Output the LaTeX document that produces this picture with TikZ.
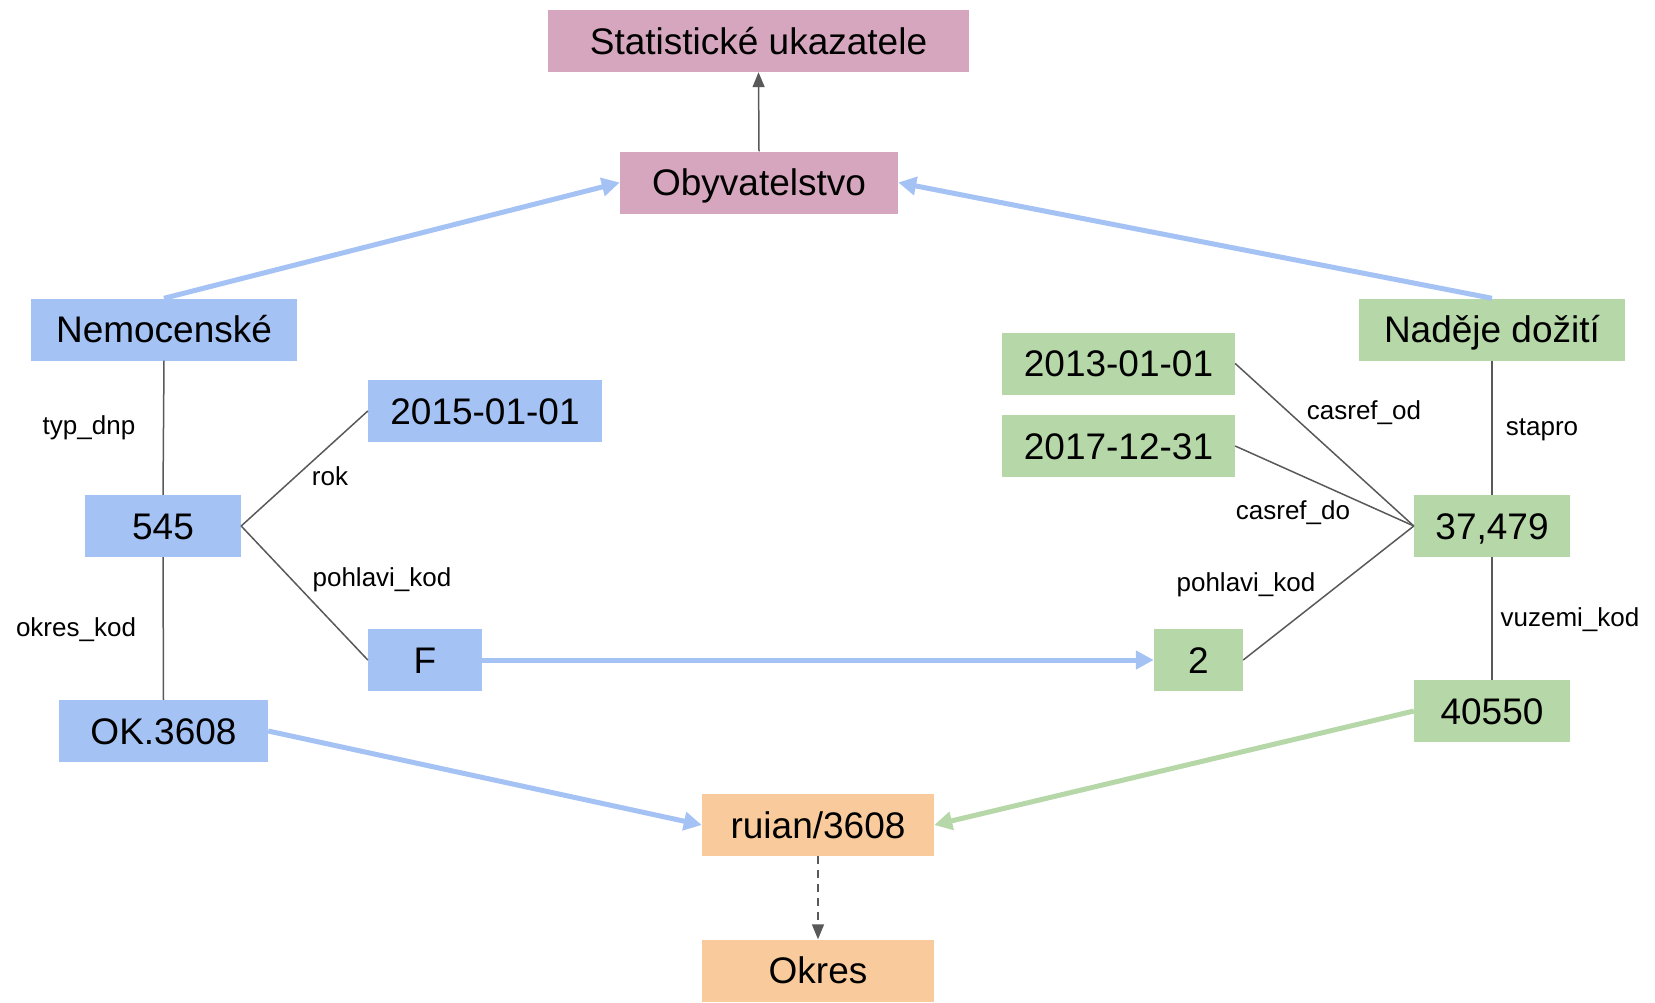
\documentclass[tikz,border=0pt]{standalone}
\usepackage{fontspec}
\setmainfont{Liberation Sans}
\usetikzlibrary{arrows.meta}
\definecolor{cblue}{HTML}{A4C2F4}
\definecolor{cpink}{HTML}{D5A6BD}
\definecolor{cgreen}{HTML}{B6D7A8}
\definecolor{corange}{HTML}{F9CB9C}
\definecolor{cgray}{HTML}{595959}
\begin{document}
\begin{tikzpicture}[x=1pt,y=1pt,
  box/.style={inner sep=0pt,minimum height=62pt,text height=26.5pt,text depth=0pt,font=\fontsize{37}{40}\selectfont,text=black},
  bl/.style={box,fill=cblue},
  gr/.style={box,fill=cgreen},
  pk/.style={box,fill=cpink},
  og/.style={box,fill=corange},
  lbl/.style={inner sep=0pt,font=\fontsize{26}{30}\selectfont},
  thin/.style={draw=cgray,line width=1.5pt},
  thinarr/.style={thin,-{Triangle[length=15pt,width=12pt]}},
  bigarr/.style={line width=5pt,-{Triangle[length=18pt,width=18pt]}}
]
\useasboundingbox (0,0) rectangle (1655,-1002);
\node[pk,minimum width=421pt] (stat) at (758.5,-41) {Statistické ukazatele};
\node[pk,minimum width=278pt] (obyv) at (759,-182.5) {Obyvatelstvo};
\node[bl,minimum width=266pt] (nem) at (164,-329.5) {Nemocenské};
\node[gr,minimum width=266pt] (nad) at (1492,-329.5) {Naděje dožití};
\node[gr,minimum width=233pt] (d13) at (1118.5,-363.5) {2013-01-01};
\node[gr,minimum width=233pt] (d17) at (1118.5,-446) {2017-12-31};
\node[bl,minimum width=234pt] (d15) at (485,-411) {2015-01-01};
\node[bl,minimum width=156pt] (n545) at (163,-526) {545};
\node[gr,minimum width=156pt] (n37) at (1492,-526) {37,479};
\node[bl,minimum width=114pt] (nF) at (425,-660) {F};
\node[gr,minimum width=89pt] (n2) at (1198.5,-660) {2};
\node[bl,minimum width=209pt] (ok) at (163.5,-731) {OK.3608};
\node[gr,minimum width=156pt] (n405) at (1492,-711) {40550};
\node[og,minimum width=232pt] (ruian) at (818,-825) {ruian/3608};
\node[og,minimum width=232pt] (okres) at (818,-970.5) {Okres};

\draw[thinarr] (obyv.north) -- (stat.south);
\draw[bigarr,draw=cblue,fill=cblue] (nem.north) -- (obyv.west);
\draw[bigarr,draw=cblue,fill=cblue] (nad.north) -- (obyv.east);
\draw[thin] (nem.south) -- (n545.north);
\draw[thin] (n545.south) -- (ok.north);
\draw[thin] (n545.east) -- (d15.west);
\draw[thin] (n545.east) -- (nF.west);
\draw[bigarr,draw=cblue,fill=cblue] (nF.east) -- (n2.west);
\draw[bigarr,draw=cblue,fill=cblue] (ok.east) -- (ruian.west);
\draw[bigarr,draw=cgreen,fill=cgreen] (n405.west) -- (ruian.east);
\draw[thinarr,dash pattern=on 8pt off 6pt] (ruian.south) -- (okres.north);
\draw[thin] (n37.west) -- (d13.east);
\draw[thin] (n37.west) -- (d17.east);
\draw[thin] (n37.west) -- (n2.east);
\draw[thin] (nad.south) -- (n37.north);
\draw[thin] (n37.south) -- (n405.north);

\node[lbl] (l1) at (89,-428) {typ\_dnp};
\node[lbl] (l2) at (330,-476) {rok};
\node[lbl] (l3) at (382,-580) {pohlavi\_kod};
\node[lbl] (l4) at (76,-630) {okres\_kod};
\node[lbl] (l5) at (1364,-413) {casref\_od};
\node[lbl] (l6) at (1293,-513) {casref\_do};
\node[lbl] (l7) at (1246,-585) {pohlavi\_kod};
\node[lbl] (l8) at (1542,-430) {stapro};
\node[lbl] (l9) at (1570,-620) {vuzemi\_kod};
\end{tikzpicture}
\end{document}
